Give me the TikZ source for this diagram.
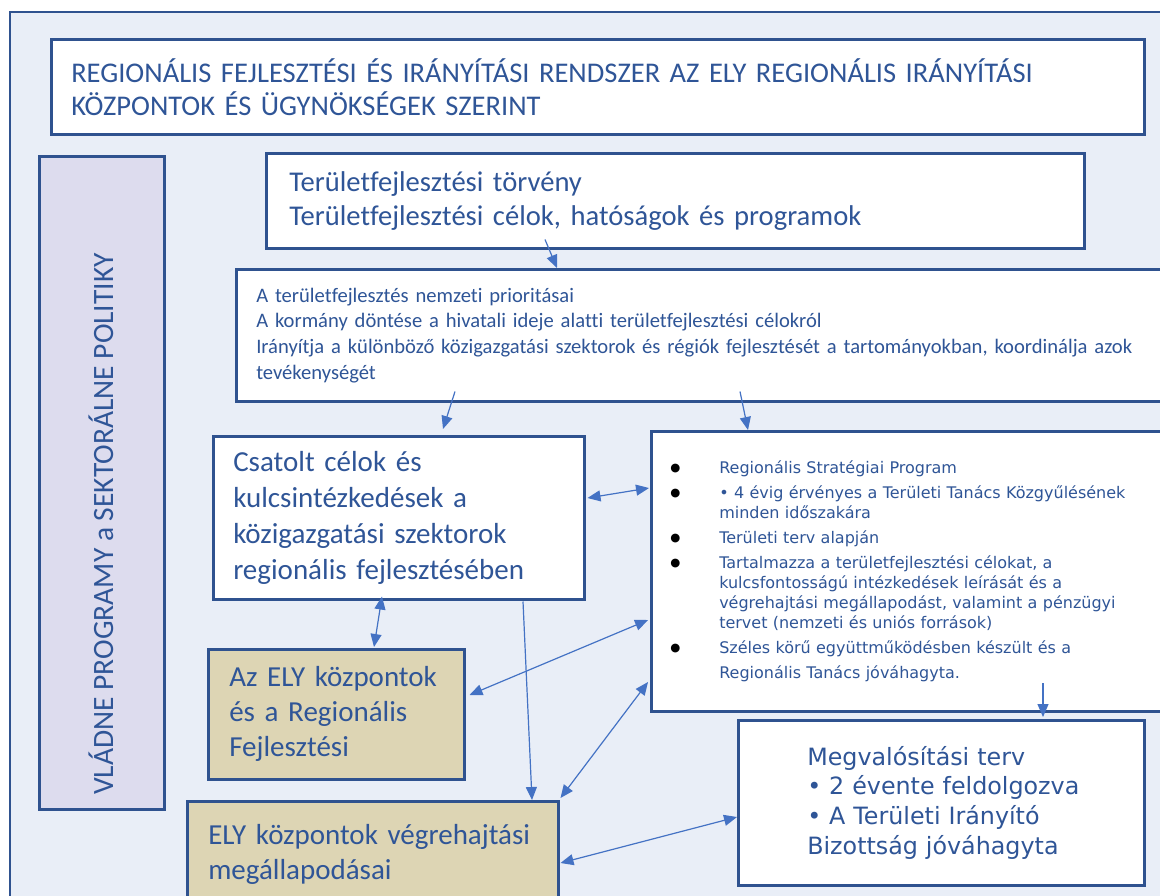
\documentclass[tikz,border=0pt]{standalone}
\usepackage{fontspec}
\usetikzlibrary{arrows.meta,calc}
\newfontfamily\calfont[Ligatures=NoCommon]{Carlito}
\newfontfamily\verfont{DejaVu Sans}
\definecolor{bgblue}{HTML}{E9EEF7}
\definecolor{bordblue}{HTML}{2F528F}
\definecolor{txtblue}{HTML}{2F5597}
\definecolor{arrblue}{HTML}{4472C4}
\definecolor{lavender}{HTML}{DDDCEE}
\definecolor{tan}{HTML}{DDD5B4}
\newcommand{\bul}{\makebox[48pt][l]{\hspace*{-1pt}\raisebox{1.5pt}{\color{black}\fontsize{11.5}{11.5}\selectfont●}}}
\newcommand{\nob}{\makebox[48pt][l]{}}
\tikzset{
  box/.style={draw=bordblue, line width=2.5pt, fill=white, anchor=north west,
    inner xsep=20pt, inner ysep=0pt, align=left, text=txtblue},
  conn/.style={draw=arrblue, line width=1.2pt, -{Triangle[length=13pt,width=11pt]}},
  dconn/.style={draw=arrblue, line width=1.2pt, {Triangle[length=13pt,width=11pt]}-{Triangle[length=13pt,width=11pt]}},
}
\begin{document}
\begin{tikzpicture}[x=1pt,y=-1pt]
\useasboundingbox (0,0) rectangle (1160,895);
\clip (0,0) rectangle (1160,895);
\fill[white] (0,0) rectangle (1160,895);
\draw[draw=bordblue, line width=2.5pt, fill=bgblue] (10,12) rectangle (1180,920);

\node[box, minimum width=1093pt, minimum height=95pt, text width=1053pt,
  font=\calfont\fontsize{28.5}{33}\selectfont] (title) at (50,38)
  {REGIONÁLIS FEJLESZTÉSI ÉS IRÁNYÍTÁSI RENDSZER AZ ELY REGIONÁLIS IRÁNYÍTÁSI\\KÖZPONTOK ÉS ÜGYNÖKSÉGEK SZERINT};

\node[box, fill=lavender, minimum width=125pt, minimum height=653pt] (left) at (38,155) {};
\node[rotate=90, text=txtblue, font=\calfont\fontsize{29.5}{33}\selectfont] (lefttext) at (101,524)
  {VLÁDNE PROGRAMY a SEKTORÁLNE POLITIKY};

\node[box, minimum width=818pt, minimum height=95pt, text width=772pt, inner xsep=23pt,
  font=\calfont\fontsize{28.6}{34}\selectfont] (law) at (265,152)
  {Területfejlesztési törvény\\Területfejlesztési célok, hatóságok és programok};

\node[box, minimum width=945pt, minimum height=132pt, text width=905pt,
  font=\calfont\fontsize{20.6}{25.7}\selectfont] (prio) at (235,268)
  {A területfejlesztés nemzeti prioritásai\\A kormány döntése a hivatali ideje alatti területfejlesztési célokról\\Irányítja a különböző közigazgatási szektorok és régiók fejlesztését a tartományokban, koordinálja azok\\tevékenységét};

\node[box, minimum width=371pt, minimum height=163pt, text width=331pt,
  font=\calfont\fontsize{29}{36}\selectfont] (csat) at (212,435)
  {Csatolt célok és\\kulcsintézkedések a\\közigazgatási szektorok\\regionális fejlesztésében};

\node[box, minimum width=530pt, minimum height=280pt, text width=500pt, inner xsep=20pt,
  font=\verfont\fontsize{16}{20}\selectfont] (rsp) at (650,430)
  {\bul Regionális Stratégiai Program\\[5pt]
   \bul • 4 évig érvényes a Területi Tanács Közgyűlésének\\
   \nob minden időszakára\\[5pt]
   \bul Területi terv alapján\\[5pt]
   \bul Tartalmazza a területfejlesztési célokat, a\\
   \nob kulcsfontosságú intézkedések leírását és a\\
   \nob végrehajtási megállapodást, valamint a pénzügyi\\
   \nob tervet (nemzeti és uniós források)\\[5pt]
   \bul Széles körű együttműködésben készült és a\\[5pt]
   \nob Regionális Tanács jóváhagyta.};

\node[box, fill=tan, minimum width=256pt, minimum height=130pt, text width=214pt, inner xsep=21pt,
  font=\calfont\fontsize{29}{35}\selectfont] (azely) at (207,648)
  {Az ELY központok\\és a Regionális\\Fejlesztési};

\node[box, fill=tan, minimum width=371pt, minimum height=107pt, text width=329pt, inner xsep=21pt,
  font=\calfont\fontsize{29}{35}\selectfont] (elyv) at (186,800)
  {ELY központok végrehajtási\\megállapodásai};

\node[box, minimum width=406pt, minimum height=165pt, text width=340pt, inner xsep=33pt,
  font=\verfont\fontsize{23.8}{29.7}\selectfont] (megv) at (737,719)
  {\hspace*{36pt}Megvalósítási terv\\\hspace*{36pt}• 2 évente feldolgozva\\\hspace*{36pt}• A Területi Irányító\\\hspace*{36pt}Bizottság jóváhagyta};

% connectors
\draw[conn] ($(law.south west)+(280,-10)$) -- ($(prio.north west)+(322,0)$);
\draw[conn] ($(prio.south west)+(220,-11)$) -- ($(csat.north west)+(231,-6)$);
\draw[conn] ($(prio.south west)+(505,-11)$) -- ($(rsp.north west)+(98,0)$);
\draw[dconn] ($(csat.north east)+(2,63)$) -- ($(rsp.north west)+(-1,58)$);
\draw[dconn] ($(csat.south west)+(170,-4)$) -- ($(azely.north west)+(167,-1)$);
\draw[dconn] ($(azely.north east)+(4,47)$) -- ($(rsp.north west)+(-2,190)$);
\draw[conn] ($(csat.south west)+(311,1)$) -- ($(elyv.north west)+(346,0)$);
\draw[dconn] ($(rsp.north west)+(-2,252)$) -- ($(elyv.north east)+(1,-2)$);
\draw[dconn] ($(elyv.north east)+(1,63)$) -- ($(megv.north west)+(0,98)$);
\draw[conn] ($(rsp.north west)+(393,253)$) -- ($(megv.north west)+(306,-2)$);
\end{tikzpicture}
\end{document}
